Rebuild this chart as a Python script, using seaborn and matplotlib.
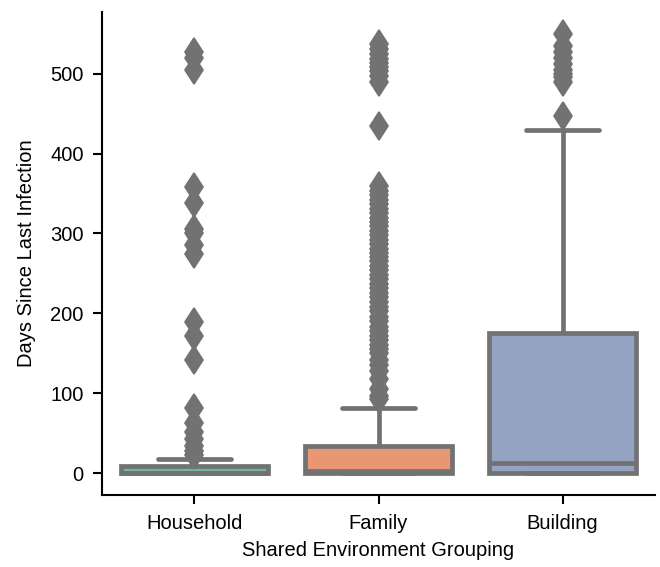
import matplotlib
matplotlib.use("Agg")
import matplotlib.pyplot as plt
import numpy as np
import pandas as pd
import seaborn as sns

# Days since last infection, as frequency tables (value, count) per grouping
groups = ["Household", "Family", "Building"]

household_days = [0, 1, 2, 3, 4, 5, 6, 7, 8, 9, 12, 14, 17, 22,
                  27, 34, 42, 51, 63, 82, 142, 171, 189, 274, 286, 300, 306,
                  338, 358, 505, 520, 527]
household_counts = [51, 4, 3, 3, 3, 3, 3, 2, 2, 3, 1, 1, 1, 1,
                    1, 1, 1, 1, 1, 1, 1, 1, 1, 1, 1, 1, 1,
                    1, 1, 1, 1, 1]

family_days = [0, 1, 2, 5, 8, 10, 13, 16, 20, 24, 28, 31, 34,
               36, 38, 40, 42, 45, 47, 50, 52, 55, 58, 61, 64, 67, 70, 73, 76, 79, 81,
               93, 97, 105, 118, 128, 135, 142, 150, 155, 160, 166, 172, 178, 183, 190,
               196, 203, 208, 214, 220, 226, 232, 237, 243, 248, 254, 259, 265, 270,
               276, 281, 287, 292, 298, 303, 309, 314, 320, 326, 331, 337, 342, 348,
               353, 360, 435, 490, 497, 503, 508, 514, 519, 525, 531, 537]
family_counts = [100, 25, 36, 8, 8, 8, 7, 7, 7, 7, 6, 5, 3] + [1] * 73

building_days = [0, 1, 2, 4, 6, 8, 10, 12,
                 20, 28, 35, 42, 50, 58, 66, 75, 84, 92, 100, 110, 120, 130, 140, 150,
                 160, 168, 175, 190, 215, 240, 270, 300, 330, 365, 400, 430,
                 447, 490, 496, 500, 505, 512, 520, 527, 535, 550]
building_counts = [21, 4, 3, 3, 2, 2, 2, 4] + [1] * 18 + [2] + [1] * 19

frames = []
for name, days, counts in [("Household", household_days, household_counts),
                           ("Family", family_days, family_counts),
                           ("Building", building_days, building_counts)]:
    frames.append(pd.DataFrame({
        "Shared Environment Grouping": name,
        "Days Since Last Infection": np.repeat(days, counts),
    }))
df = pd.concat(frames, ignore_index=True)

sns.set_theme(style="ticks")
plt.rcParams["font.family"] = ["Liberation Sans", "DejaVu Sans"]
plt.rcParams["text.color"] = "black"
plt.rcParams["axes.labelcolor"] = "black"
plt.rcParams["xtick.color"] = "black"
plt.rcParams["ytick.color"] = "black"

line_gray = "#727272"

fig, ax = plt.subplots(figsize=(6.6, 5.67), dpi=100)
sns.boxplot(
    data=df,
    x="Shared Environment Grouping",
    y="Days Since Last Infection",
    hue="Shared Environment Grouping",
    order=groups,
    palette="Set2",
    linewidth=3.4,
    linecolor=line_gray,
    flierprops={"marker": "d", "markersize": 14.5, "markeredgewidth": 1.2,
                "markerfacecolor": line_gray, "markeredgecolor": line_gray},
    legend=False,
    ax=ax,
)
sns.despine(ax=ax)

ax.set_yticks([0, 100, 200, 300, 400, 500])
ax.tick_params(labelsize=14.5, width=1.5, length=6.5, pad=7)
ax.set_xlabel("Shared Environment Grouping", fontsize=14.5, labelpad=6)
ax.set_ylabel("Days Since Last Infection", fontsize=14.5, labelpad=10)
for sp in ax.spines.values():
    sp.set_linewidth(1.5)
    sp.set_color("black")

fig.subplots_adjust(left=0.155, right=0.992, bottom=0.127, top=0.979)
fig.savefig("out.png", dpi=100)
